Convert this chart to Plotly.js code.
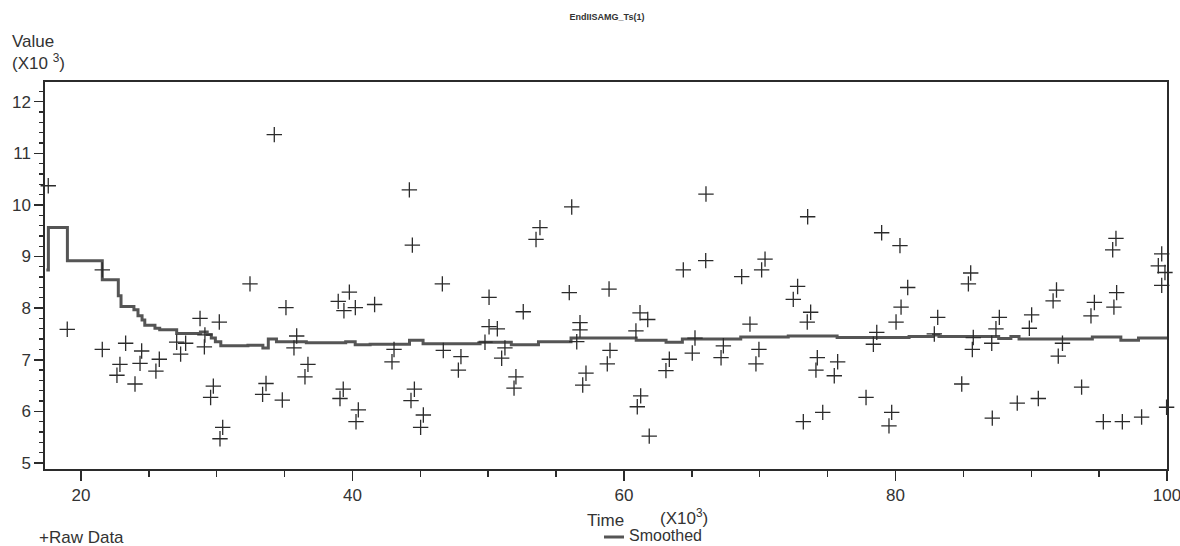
<!DOCTYPE html>
<html>
<head>
<meta charset="utf-8">
<script src="https://cdn.plot.ly/plotly-3.0.1.min.js"></script>
<style>html,body{margin:0;padding:0;background:#fff;}#chart{width:1180px;height:546px;}</style>
</head>
<body>
<div id="chart"></div>
<script>
// Time (x10^3)
var rawX = [17.59, 18.99, 21.57, 21.57, 23.29, 22.87, 22.65, 24.47, 24.35, 23.98, 25.77, 25.52, 27.05, 27.71, 27.34, 28.77, 30.19, 29.09, 29.13, 29.75, 29.55, 30.44, 30.24, 32.45, 34.24, 35.10, 35.89, 35.69, 33.63, 33.38, 34.83, 36.72, 36.50, 38.95, 39.77, 39.37, 40.21, 41.63, 39.32, 39.08, 40.43, 40.26, 43.06, 42.91, 44.19, 44.41, 44.56, 44.31, 45.22, 45.02, 46.62, 46.69, 47.99, 47.80, 50.06, 50.06, 50.67, 49.76, 51.23, 50.99, 52.58, 52.04, 51.90, 53.81, 53.52, 56.15, 55.97, 56.76, 56.76, 56.52, 57.20, 56.96, 58.90, 58.97, 58.77, 61.18, 61.75, 60.88, 61.23, 60.98, 61.86, 64.37, 66.04, 66.02, 65.23, 65.03, 63.34, 63.09, 68.67, 70.14, 70.39, 69.28, 67.32, 67.15, 69.94, 69.72, 73.53, 72.79, 72.47, 73.75, 73.50, 74.24, 74.14, 75.74, 75.49, 73.21, 74.64, 77.83, 78.62, 78.37, 78.98, 80.33, 80.90, 80.41, 80.04, 79.72, 79.52, 83.11, 82.86, 85.54, 85.37, 85.73, 85.66, 84.88, 87.65, 87.40, 87.09, 87.13, 88.97, 90.03, 89.86, 90.52, 90.60, 91.86, 91.61, 92.30, 91.99, 93.71, 94.65, 94.40, 95.31, 96.24, 96.00, 96.29, 96.09, 96.71, 98.13, 99.61, 99.36, 99.85, 99.61, 99.97];
// Value (x10^3)
var rawY = [10.37, 7.59, 8.74, 7.20, 7.32, 6.91, 6.70, 7.17, 6.93, 6.53, 7.01, 6.78, 7.34, 7.32, 7.11, 7.80, 7.73, 7.25, 7.48, 6.49, 6.27, 5.69, 5.47, 8.47, 11.36, 8.01, 7.46, 7.23, 6.54, 6.33, 6.22, 6.91, 6.67, 8.13, 8.31, 7.95, 8.01, 8.07, 6.43, 6.25, 6.03, 5.80, 7.20, 6.96, 10.29, 9.22, 6.43, 6.21, 5.93, 5.69, 8.47, 7.18, 7.06, 6.80, 8.21, 7.64, 7.60, 7.34, 7.23, 7.03, 7.93, 6.67, 6.45, 9.56, 9.33, 9.96, 8.30, 7.72, 7.58, 7.35, 6.74, 6.51, 8.37, 7.18, 6.92, 7.91, 7.78, 7.56, 6.30, 6.09, 5.52, 8.74, 10.21, 8.92, 7.42, 7.13, 7.01, 6.79, 8.61, 8.74, 8.95, 7.69, 7.27, 7.04, 7.20, 6.92, 9.77, 8.42, 8.17, 7.92, 7.73, 7.04, 6.80, 6.96, 6.69, 5.80, 5.98, 6.27, 7.53, 7.30, 9.46, 9.21, 8.40, 8.02, 7.73, 5.98, 5.72, 7.82, 7.50, 8.68, 8.47, 7.43, 7.20, 6.53, 7.82, 7.60, 7.32, 5.87, 6.16, 7.87, 7.61, 6.25, 4.86, 8.35, 8.14, 7.32, 7.07, 6.47, 8.11, 7.85, 5.80, 9.35, 9.13, 8.30, 8.02, 5.80, 5.89, 9.05, 8.82, 8.69, 8.44, 6.08];

var smoothX = [17.45, 17.6, 19.0, 21.57, 22.75, 22.95, 23.9, 24.2, 24.5, 24.7, 25.45, 25.8, 27.05, 28.8, 29.3, 29.6, 29.9, 30.3, 32.3, 33.4, 33.8, 34.4, 36.6, 39.5, 40.2, 41.3, 44.2, 45.2, 49.4, 51.7, 53.7, 56.1, 60.9, 63.1, 64.3, 68.6, 72.1, 75.7, 81.0, 82.8, 83.2, 87.6, 88.5, 89.1, 94.5, 96.6, 97.9, 100];
var smoothY = [8.74, 9.56, 8.92, 8.55, 8.24, 8.03, 7.97, 7.85, 7.77, 7.67, 7.61, 7.58, 7.51, 7.54, 7.49, 7.42, 7.35, 7.27, 7.28, 7.23, 7.40, 7.35, 7.33, 7.35, 7.29, 7.30, 7.38, 7.31, 7.34, 7.29, 7.35, 7.42, 7.38, 7.34, 7.40, 7.44, 7.46, 7.43, 7.45, 7.48, 7.45, 7.41, 7.45, 7.40, 7.44, 7.38, 7.42, 7.42];

var xTickVals = [20, 40, 60, 80, 100];
var yTickVals = [5, 6, 7, 8, 9, 10, 11, 12];

var FONT = 'Liberation Sans, Arial, sans-serif';
var INK = '#2b2b2b';

var traces = [
  {
    x: smoothX, y: smoothY, type: 'scatter', mode: 'lines', name: 'Smoothed',
    line: {shape: 'hv', color: '#555555', width: 3},
    showlegend: false, hoverinfo: 'skip'
  },
  {
    x: rawX, y: rawY, type: 'scatter', mode: 'markers', name: 'Raw Data',
    marker: {symbol: 'cross-thin', size: 11, line: {color: INK, width: 1.3}, color: INK},
    cliponaxis: false, showlegend: false
  }
];

var W = 1180, H = 546, ML = 45, MR = 13, MT = 82, MB = 77;
var PW = W - ML - MR, PH = H - MT - MB;
function px(xp) { return (xp - ML) / PW; }
function py(yp) { return (H - MB - yp) / PH; }

var layout = {
  width: W, height: H,
  margin: {l: ML, r: MR, t: MT, b: MB, pad: 0},
  paper_bgcolor: '#ffffff', plot_bgcolor: '#ffffff',
  title: {
    text: '<b>EndIISAMG_Ts(1)</b>',
    font: {family: FONT, size: 9, color: '#333'},
    x: px(607), xref: 'paper', xanchor: 'center',
    y: 1 - 17 / H, yref: 'container', yanchor: 'middle'
  },
  xaxis: {
    range: [17.35, 100], tickvals: xTickVals, ticktext: xTickVals.map(String),
    ticks: 'outside', ticklen: 10, tickwidth: 1.5, tickcolor: INK,
    ticklabeloverflow: 'allow',
    minor: {dtick: 5, tick0: 0, ticks: 'outside', ticklen: 6, tickwidth: 1.5, tickcolor: INK, showgrid: false},
    showgrid: false, zeroline: false,
    showline: true, linecolor: INK, linewidth: 1.6, mirror: true,
    tickfont: {family: FONT, size: 17, color: '#333'}
  },
  yaxis: {
    range: [4.884, 12.38], tickvals: yTickVals, ticktext: yTickVals.map(String),
    ticks: 'outside', ticklen: 9, tickwidth: 1.5, tickcolor: INK,
    ticklabeloverflow: 'allow',
    minor: {dtick: 0.2, tick0: 0, ticks: 'outside', ticklen: 4, tickwidth: 1.3, tickcolor: INK, showgrid: false},
    showgrid: false, zeroline: false,
    showline: true, linecolor: INK, linewidth: 1.6, mirror: true,
    tickfont: {family: FONT, size: 17, color: '#333'}
  },
  annotations: [
    {text: 'Value', xref: 'paper', yref: 'paper', x: px(10), y: py(42), xanchor: 'left', yanchor: 'middle', showarrow: false, font: {family: FONT, size: 17, color: '#333'}},
    {text: '(X10 <sup>3</sup>)', xref: 'paper', yref: 'paper', x: px(10), y: py(62), xanchor: 'left', yanchor: 'middle', showarrow: false, font: {family: FONT, size: 17, color: '#333'}},
    {text: 'Time', xref: 'paper', yref: 'paper', x: px(605), y: py(520), xanchor: 'center', yanchor: 'middle', showarrow: false, font: {family: FONT, size: 17, color: '#333'}},
    {text: '(X10<sup>3</sup>)', xref: 'paper', yref: 'paper', x: px(684), y: py(517), xanchor: 'center', yanchor: 'middle', showarrow: false, font: {family: FONT, size: 17, color: '#333'}},
    {text: '+Raw Data', xref: 'paper', yref: 'paper', x: px(37), y: py(537), xanchor: 'left', yanchor: 'middle', showarrow: false, font: {family: FONT, size: 17, color: '#333'}},
    {text: 'Smoothed', xref: 'paper', yref: 'paper', x: px(627), y: py(535), xanchor: 'left', yanchor: 'middle', showarrow: false, font: {family: FONT, size: 16, color: '#333'}}
  ],
  shapes: [
    {type: 'line', xref: 'paper', yref: 'paper', x0: px(604), x1: px(624), y0: py(537), y1: py(537), line: {color: '#555', width: 3}}
  ]
};

Plotly.newPlot('chart', traces, layout, {displayModeBar: false, staticPlot: true});
</script>
</body>
</html>
